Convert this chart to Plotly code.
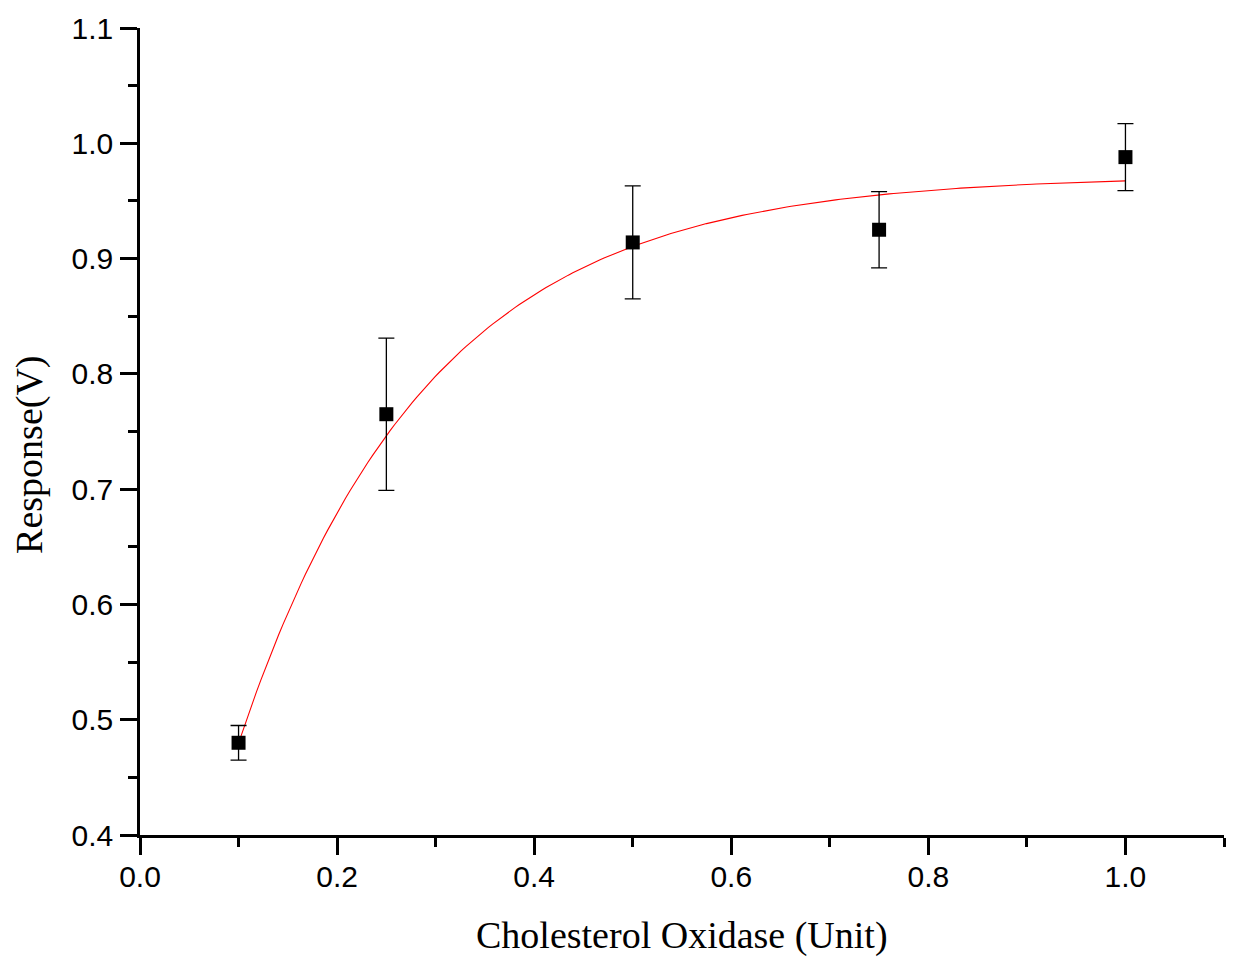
import numpy as np
import plotly.graph_objects as go

# Data
enzyme_units = [0.1, 0.25, 0.5, 0.75, 1.0]
response_v = [0.480, 0.765, 0.914, 0.925, 0.988]
response_err = [0.015, 0.066, 0.049, 0.033, 0.029]

# Exponential saturation fit  y = A - B*exp(-x/t)  (parameters)
fit_A = 0.972
fit_B = 0.828
fit_t = 0.1923

x_ticks = [0.0, 0.2, 0.4, 0.6, 0.8, 1.0]
y_ticks = [0.4, 0.5, 0.6, 0.7, 0.8, 0.9, 1.0, 1.1]

fit_x = np.linspace(min(enzyme_units), max(enzyme_units), 200)
fit_y = fit_A - fit_B * np.exp(-fit_x / fit_t)

fig = go.Figure()
fig.add_trace(go.Scatter(
    x=fit_x, y=fit_y, mode="lines",
    line=dict(color="#ff0000", width=1.1),
    showlegend=False, hoverinfo="skip",
))
fig.add_trace(go.Scatter(
    x=enzyme_units, y=response_v, mode="markers",
    marker=dict(symbol="square", size=14, color="black"),
    error_y=dict(type="data", array=response_err, visible=True,
                 color="black", thickness=1.3, width=8),
    showlegend=False,
))

axis_common = dict(
    showgrid=False, zeroline=False, showline=True,
    linecolor="black", linewidth=2.5,
    ticks="outside", ticklen=17, tickwidth=2.5, tickcolor="black",
    tickfont=dict(family="Liberation Sans, Arial, sans-serif", size=30, color="black"),
    tickformat=".1f",
)

fig.update_layout(
    width=1233, height=960,
    margin=dict(l=140, r=9, t=28, b=125),
    paper_bgcolor="white", plot_bgcolor="white",
    xaxis=dict(range=[0, 1.1], tickvals=x_ticks, ticklabelstandoff=-4,
               minor=dict(dtick=0.1, tick0=0, ticklen=9, tickwidth=2.5,
                          tickcolor="black", ticks="outside"),
               **axis_common),
    yaxis=dict(range=[0.4, 1.1], tickvals=y_ticks, ticklabelstandoff=1,
               minor=dict(dtick=0.05, tick0=0.4, ticklen=9, tickwidth=2.5,
                          tickcolor="black", ticks="outside"),
               **axis_common),
    annotations=[
        dict(text="Cholesterol Oxidase (Unit)", xref="paper", yref="paper",
             x=0.5, y=-0.124, xanchor="center", yanchor="middle", showarrow=False,
             font=dict(family="Liberation Serif, Times New Roman, serif", size=38, color="black")),
        dict(text="Response(V)", xref="paper", yref="paper",
             x=-0.1015, y=0.471, xanchor="center", yanchor="middle", showarrow=False,
             textangle=-90,
             font=dict(family="Liberation Serif, Times New Roman, serif", size=38, color="black")),
    ],
)

fig.write_html("out.html")
